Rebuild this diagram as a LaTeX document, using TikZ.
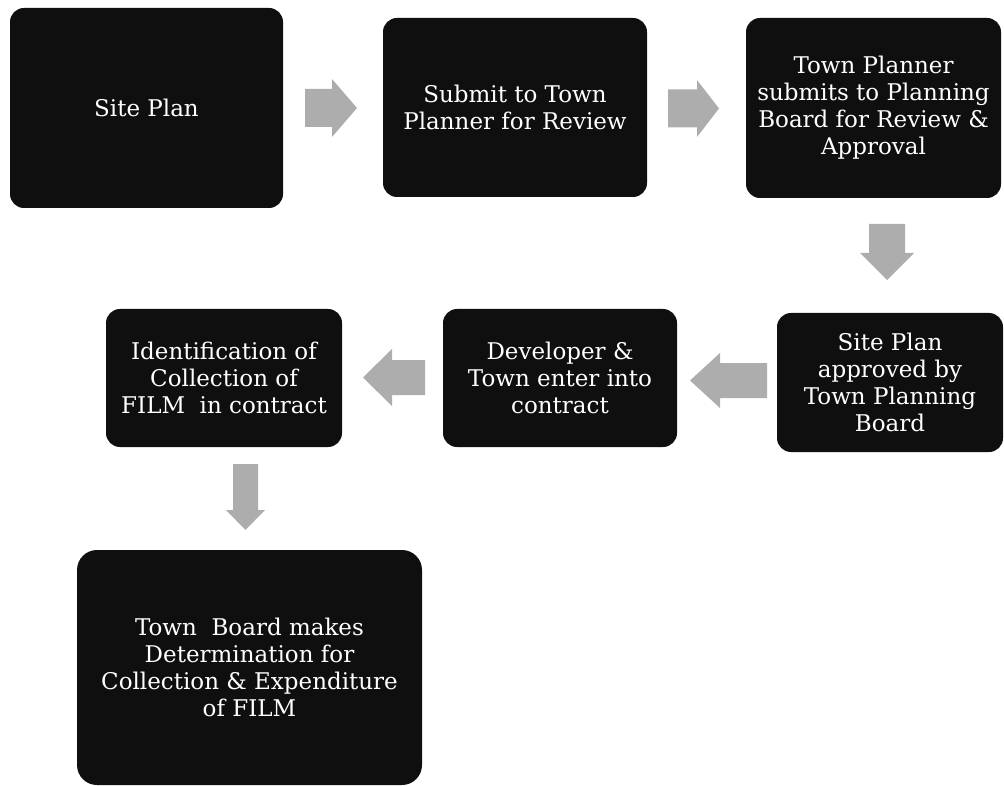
\documentclass[tikz,border=0pt]{standalone}
\usepackage{fontspec}
\setmainfont{DejaVu Serif}
\begin{document}
\begin{tikzpicture}[x=1pt,y=-1pt,
  box/.style={rectangle,rounded corners=14pt,fill=black!94,text=white,align=center,
    inner sep=0pt,font=\fontsize{23}{27}\selectfont},
  blockarrow/.style={fill=black!32,draw=none}]
\useasboundingbox (0,0) rectangle (1004,786);
\newcommand{\barrow}[8]{%
  \coordinate (#1) at (#2,#3);
  \begin{scope}[shift={(#1)},rotate=#4]
    \fill[blockarrow] ({-#5/2},{-#7/2}) -- ({#5/2-#8},{-#7/2}) -- ({#5/2-#8},{-#6/2})
      -- ({#5/2},0) -- ({#5/2-#8},{#6/2}) -- ({#5/2-#8},{#7/2}) -- ({-#5/2},{#7/2}) -- cycle;
  \end{scope}}
\node[box,minimum width=273pt,minimum height=200pt] (b1) at (146.5,108) {Site Plan};
\node[box,minimum width=264pt,minimum height=179pt] (b2) at (515,107.5) {Submit to Town\\Planner for Review};
\node[box,minimum width=255pt,minimum height=180pt] (b3) at (873.5,108) {Town Planner\\submits to Planning\\Board for Review \&\\Approval};
\node[box,minimum width=226pt,minimum height=139pt] (b4) at (890,382.5) {Site Plan\\approved by\\Town Planning\\Board};
\node[box,minimum width=234pt,minimum height=138pt] (b5) at (560,378) {Developer \&\\Town enter into\\contract};
\node[box,minimum width=236pt,minimum height=138pt] (b6) at (224,378) {Identification of\\Collection of\\FILM\ \ in contract};
\node[box,rounded corners=20pt,minimum width=345pt,minimum height=235pt] (b7) at (249.5,667.5) {Town\ \ Board makes\\Determination for\\Collection \& Expenditure\\of FILM};
\barrow{a1}{331}{108}{0}{52}{58}{38}{25}
\barrow{a2}{693.5}{108.5}{0}{51}{57}{38}{22}
\barrow{a3}{887}{252}{-90}{56}{54}{36}{27}
\barrow{a4}{728.5}{380.5}{180}{77}{55}{35}{30}
\barrow{a5}{394}{377.5}{180}{62}{57}{35}{29}
\barrow{a6}{245.5}{497}{-90}{66}{39}{25}{20}
\end{tikzpicture}
\end{document}
